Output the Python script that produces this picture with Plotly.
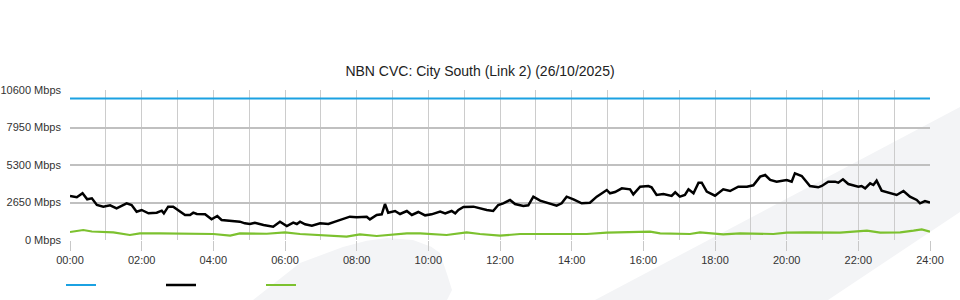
import plotly.graph_objects as go

# ---- data ----
tick_hours = list(range(0, 25, 2))
tick_labels = ["%02d:00" % h for h in tick_hours]
y_ticks = [0, 2650, 5300, 7950, 10600]
y_tick_labels = ["%d Mbps" % v for v in y_ticks]

capacity_hours = [0, 24]
capacity_mbps = [10000, 10000]

down_hours = [0.00, 0.19, 0.35, 0.48, 0.61, 0.75, 0.93, 1.12, 1.30, 1.58, 1.72, 1.86, 2.00, 2.19, 2.42,
              2.56, 2.62, 2.74, 2.88, 3.07, 3.21, 3.35, 3.44, 3.54, 3.77, 3.95, 4.11, 4.23, 4.56, 4.74,
              4.88, 5.02, 5.16, 5.40, 5.67, 5.86, 6.05, 6.23, 6.33, 6.42, 6.56, 6.75, 6.98, 7.21, 7.40,
              7.58, 7.81, 8.00, 8.28, 8.37, 8.56, 8.70, 8.79, 8.88, 9.07, 9.21, 9.40, 9.54, 9.72, 9.91,
              10.09, 10.33, 10.47, 10.65, 10.75, 10.84, 10.98, 11.26, 11.44, 11.63, 11.81, 11.95, 12.09,
              12.28, 12.42, 12.65, 12.79, 12.93, 13.12, 13.40, 13.58, 13.72, 13.86, 14.05, 14.28, 14.51,
              14.70, 14.98, 15.07, 15.21, 15.40, 15.63, 15.72, 15.91, 16.14, 16.23, 16.37, 16.56, 16.79,
              16.89, 17.02, 17.16, 17.26, 17.40, 17.54, 17.63, 17.77, 18.00, 18.23, 18.42, 18.65, 18.89,
              19.07, 19.26, 19.40, 19.54, 19.72, 20.00, 20.14, 20.23, 20.42, 20.65, 20.88, 20.98, 21.16,
              21.35, 21.44, 21.57, 21.72, 22.00, 22.09, 22.19, 22.33, 22.42, 22.51, 22.65, 22.89, 23.07,
              23.26, 23.44, 23.63, 23.72, 23.86, 24.00]
down_mbps = [3110, 3020, 3300, 2876, 2945, 2473, 2356, 2450, 2237, 2590, 2473, 2003, 2120, 1885, 1932,
             2073, 1885, 2356, 2356, 2003, 1767, 1767, 1932, 1837, 1814, 1460, 1696, 1413, 1366, 1295,
             1178, 1131, 1225, 1060, 942, 1295, 989, 1225, 1131, 1295, 1107, 1013, 1178, 1131, 1295,
             1460, 1649, 1602, 1649, 1460, 1767, 1814, 2544, 1932, 2050, 1837, 2050, 1767, 1979, 1743,
             1814, 2003, 1885, 2050, 1885, 2120, 2332, 2356, 2237, 2120, 2050, 2473, 2590,
             2827, 2544, 2403, 2450, 3063, 2780, 2544, 2426, 2590, 3063, 2874, 2590, 2638,
             3063, 3534, 3300, 3392, 3652, 3581, 3228, 3769, 3816, 3722, 3180, 3251, 3110,
             3369, 3063, 3180, 3581, 3300, 4051, 4051, 3416, 3133, 3581, 3463, 3769, 3769,
             3863, 4474, 4593, 4240, 4122, 4240, 4122, 4710, 4523, 3816, 3722, 3816, 4122,
             4122, 4051, 4287, 3957, 3769, 3816, 3652, 4004, 3887, 4193, 3487, 3300, 3180,
             3463, 3063, 2827, 2590, 2756, 2638]

up_hours = [0.00, 0.37, 0.61, 0.84, 1.21, 1.67, 1.95, 2.51, 4.00, 4.47, 4.74, 5.49, 6.00, 6.42, 6.98,
            7.72, 8.09, 8.56, 9.40, 9.77, 10.51, 11.07, 11.44, 12.00, 12.56, 13.48, 14.42, 14.98,
            15.91, 16.19, 16.47, 17.30, 17.58, 18.23, 18.70, 19.63, 20.00, 20.56, 21.49, 22.24,
            22.61, 23.17, 23.54, 23.77, 24.00]
up_mbps = [565, 707, 600, 589, 541, 353, 471, 471, 424, 306, 471, 440, 542, 424, 353,
           236, 400, 283, 471, 471, 353, 542, 424, 306, 424, 424, 424, 518,
           589, 589, 471, 424, 542, 400, 471, 424, 518, 542, 518, 659,
           518, 542, 659, 754, 589]

series_names = [" ", " ", " "]
series_colors = ["#1ba1e2", "#000000", "#7cc12f"]
series_widths = [2.2, 2.5, 2.2]

# ---- figure ----
fig = go.Figure()
for hx, vy, nm, col, wd in [(capacity_hours, capacity_mbps, series_names[0], series_colors[0], series_widths[0]),
                            (down_hours, down_mbps, series_names[1], series_colors[1], series_widths[1]),
                            (up_hours, up_mbps, series_names[2], series_colors[2], series_widths[2])]:
    fig.add_trace(go.Scatter(x=hx, y=vy, mode="lines", name=nm,
                             line=dict(color=col, width=wd), hoverinfo="skip"))

# decorative watermark shapes (paper coordinates)
wm = "#f3f4f6"
fig.add_shape(type="path", xref="paper", yref="paper", layer="below",
              path="M 0.6105 -0.4 L 1.0349 0.8867 L 1.0349 0.1867 L 0.8814 -0.4 Z",
              fillcolor=wm, line=dict(width=0))
fig.add_shape(type="path", xref="paper", yref="paper", layer="below",
              path=("M 0.2128 -0.4 L 0.2674 -0.1533 L 0.3174 -0.0467 L 0.3450 -0.0050 "
                    "L 0.3686 0.0133 L 0.3988 0.0 L 0.4200 -0.0450 L 0.4302 -0.0867 "
                    "L 0.4395 -0.2467 L 0.4442 -0.3333 L 0.4384 -0.4 Z"),
              fillcolor=wm, line=dict(width=0))

fig.update_layout(
    width=960, height=300,
    margin=dict(l=70, r=30, t=90, b=60, autoexpand=False),
    paper_bgcolor="white", plot_bgcolor="rgba(0,0,0,0)",
    font=dict(family="Liberation Sans, Arial, sans-serif", size=11, color="#333333"),
    title=dict(text="NBN CVC: City South (Link 2) (26/10/2025)",
               x=0.5, xref="container", xanchor="center",
               y=(300 - 71) / 300, yref="container", yanchor="middle",
               font=dict(size=14, color="#222222")),
    showlegend=True,
    legend=dict(orientation="h", xref="container", x=61 / 960, xanchor="left",
                yref="container", y=15 / 300, yanchor="middle",
                entrywidth=55, entrywidthmode="pixels", bgcolor="rgba(0,0,0,0)",
                font=dict(size=11), itemclick=False),
)
fig.update_xaxes(range=[0, 24], tickvals=tick_hours, ticktext=tick_labels,
                 showgrid=True, gridcolor="#cccccc", gridwidth=1,
                 ticks="outside", ticklen=10, tickcolor="#c8c8c8", tickwidth=1,
                 minor=dict(dtick=1, tick0=0, showgrid=True, gridcolor="#cccccc", gridwidth=1),
                 zeroline=False, showline=False, fixedrange=True, automargin=False)
fig.update_yaxes(range=[0, 10600], tickvals=y_ticks, ticktext=y_tick_labels,
                 showgrid=True, gridcolor="#c0c0c0", gridwidth=2,
                 zeroline=False, showline=False, ticks="", ticklabelstandoff=8,
                 fixedrange=True, automargin=False)

fig.write_html("out.html", config={"displayModeBar": False})
